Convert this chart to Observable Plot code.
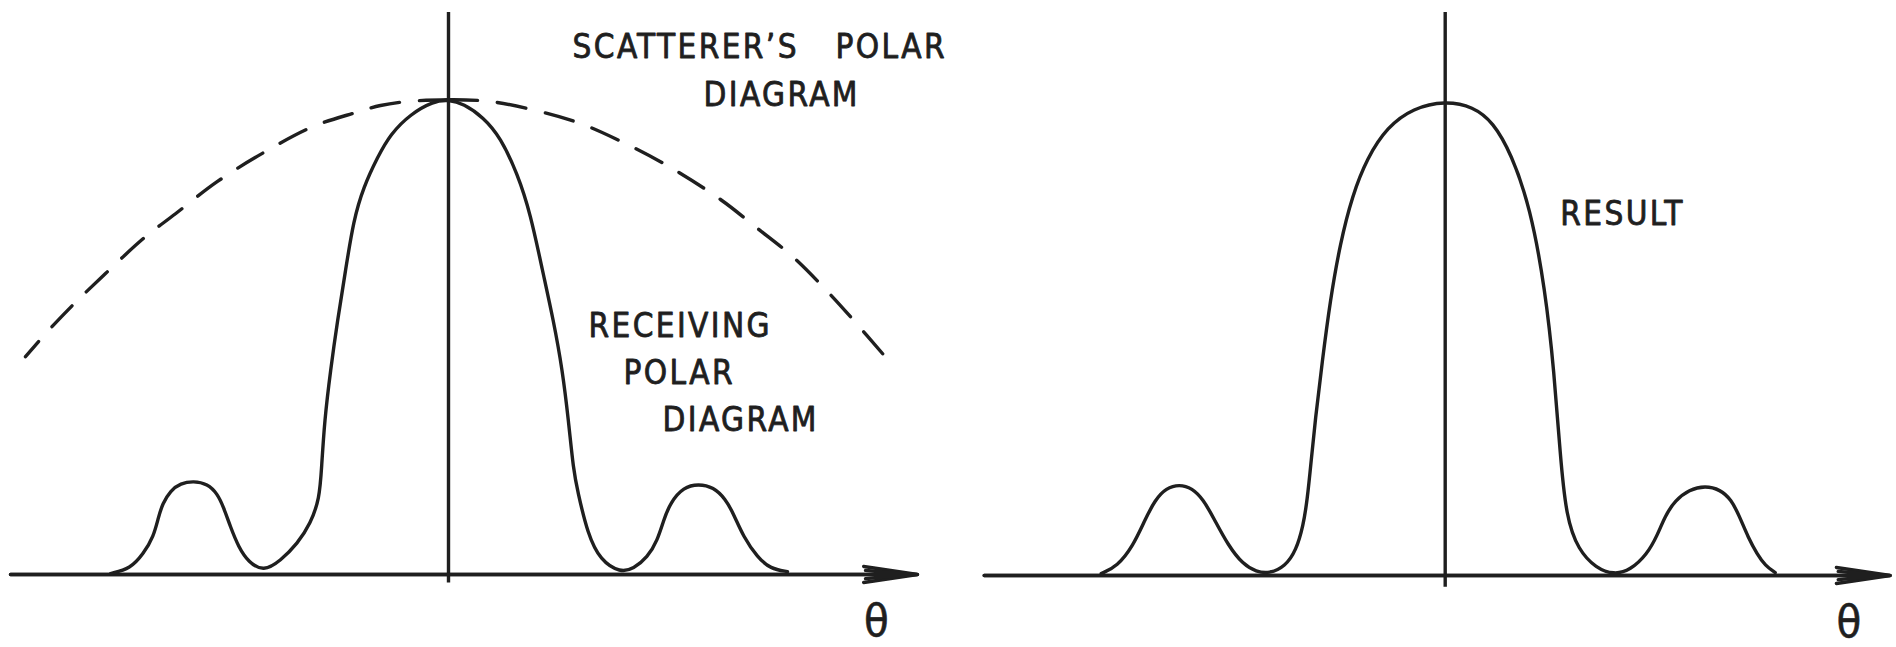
<!DOCTYPE html>
<html>
<head>
<meta charset="utf-8">
<script src="https://cdn.jsdelivr.net/npm/d3@7"></script>
<script src="https://cdn.jsdelivr.net/npm/@observablehq/plot@0.6"></script>
<style>
  html, body { margin: 0; padding: 0; background: #fff; }
  #row { display: flex; width: 1896px; height: 647px; overflow: hidden; }
  #row svg { display: block; flex: none; }
</style>
</head>
<body>
<div id="row"></div>
<script>
// Angle θ (arbitrary units, 0 = boresight) and normalized response.

// Receiving antenna polar diagram: main lobe plus first side lobes
const receivingTheta = [-33.8, -31.8, -30.5, -29.5, -29.0, -28.6, -27.8, -26.8, -25.5, -24.1, -23.1, -22.5,
  -21.8, -21.0, -20.0, -18.5, -16.8, -15.1, -13.8, -12.9, -12.7, -12.4, -11.8, -11.1, -10.3, -9.5,
  -8.5, -7.1, -5.8, -3.8, -1.5, 0,
  1.5, 3.5, 5.2, 6.9, 8.2, 9.4, 10.5, 11.4, 12.0, 12.5, 12.9, 13.9, 15.2, 17.2,
  18.5, 19.9, 20.9, 21.5, 22.2, 23.5, 25.0, 26.5, 27.7, 28.5, 29.5, 30.9, 32.2, 33.9];
const receivingGain = [0.002, 0.012, 0.044, 0.079, 0.121, 0.149, 0.177, 0.192, 0.197, 0.191, 0.170, 0.142,
  0.100, 0.058, 0.026, 0.006, 0.029, 0.065, 0.107, 0.160, 0.222, 0.324, 0.430, 0.535, 0.640, 0.746,
  0.816, 0.879, 0.928, 0.970, 0.997, 1.0,
  0.992, 0.963, 0.921, 0.844, 0.760, 0.640, 0.535, 0.430, 0.324, 0.219, 0.177, 0.086, 0.029, 0.004,
  0.012, 0.036, 0.072, 0.114, 0.152, 0.184, 0.191, 0.184, 0.159, 0.128, 0.079, 0.036, 0.012, 0.006];

// Scatterer's polar diagram: broad smooth pattern
const scattererTheta = [-42.3, -40.0, -37.6, -34.3, -30.5, -27.3, -23.1, -18.3, -13.5, -9.3, -6.8, -3.8, 0,
  4.0, 9.2, 13.2, 16.7, 22.0, 27.2, 30.9, 34.5, 37.9, 40.7, 43.5];
const scattererGain = [0.459, 0.514, 0.567, 0.634, 0.708, 0.760, 0.828, 0.891, 0.944, 0.973, 0.988, 0.997, 1.0,
  0.997, 0.975, 0.950, 0.918, 0.860, 0.790, 0.729, 0.668, 0.596, 0.531, 0.463];

// Combined response of the two patterns
const resultTheta = [-34.4, -32.8, -31.2, -30.1, -29.0, -27.9, -26.6, -25.3, -24.2, -23.2, -21.7, -20.2, -18.9, -17.6,
  -16.0, -14.9, -14.2, -13.8, -13.4, -13.0, -12.3, -11.5, -10.5, -9.3, -7.8, -5.8, -3.2, 0,
  2.8, 4.8, 6.6, 8.5, 10.0, 10.9, 11.5, 12.1, 13.3, 15.1, 16.9,
  18.5, 20.2, 21.2, 22.0, 23.0, 24.4, 26.0, 27.5, 28.6, 29.4, 30.3, 31.2, 32.0, 33.0];
const resultGain = [0.004, 0.019, 0.063, 0.114, 0.160, 0.184, 0.192, 0.184, 0.160, 0.123, 0.063, 0.023, 0.008, 0.004,
  0.019, 0.053, 0.105, 0.158, 0.242, 0.327, 0.450, 0.580, 0.700, 0.800, 0.880, 0.945, 0.985, 1.0,
  0.988, 0.955, 0.889, 0.776, 0.603, 0.428, 0.254, 0.123, 0.054, 0.015, 0.002,
  0.011, 0.045, 0.084, 0.126, 0.158, 0.181, 0.189, 0.181, 0.160, 0.126, 0.080, 0.045, 0.021, 0.006];

const INK = "#1f1f1f";
const FONT = "'DejaVu Sans Condensed', 'DejaVu Sans', sans-serif";

const toRows = (thetas, gains) => thetas.map((t, i) => ({theta: t, gain: gains[i]}));

// Dashed curve drawn outward from the peak on each side, so a dash sits on the crest
function fromCrest(rows) {
  const left = rows.filter(d => d.theta <= 0).reverse().map(d => ({...d, side: "left"}));
  const right = rows.filter(d => d.theta >= 0).map(d => ({...d, side: "right"}));
  return left.concat(right);
}

// Axes: a vertical rule at θ = 0 and a horizontal θ axis ending in an arrow
function axisMarks(thetaFrom, thetaTo, gainLow, gainHigh) {
  const shaft = [{a: thetaFrom, b: thetaTo}];
  return [
    Plot.ruleX([0], {y1: gainLow, y2: gainHigh, stroke: INK, strokeWidth: 3.4}),
    Plot.arrow(shaft, {x1: "a", x2: "b", y1: 0, y2: 0,
      stroke: INK, strokeWidth: 3.4, headAngle: 17, headLength: 24}),
    Plot.arrow(shaft, {x1: "a", x2: "b", y1: 0, y2: 0,
      stroke: INK, strokeWidth: 3.4, headAngle: 9, headLength: 23}),
    Plot.text(["θ"], {
      x: thetaTo - 4, y: -0.13, text: d => d,
      fontSize: 45, textAnchor: "middle", lineAnchor: "bottom", fill: INK, stroke: INK, strokeWidth: 0.6
    })
  ];
}

const label = (text, theta, gain) =>
  Plot.text([text], {x: theta, y: gain, text: d => d, fontSize: 33, textAnchor: "start",
    lineAnchor: "bottom", fill: INK, stroke: INK, strokeWidth: 0.8});

const panelStyle = {fontFamily: FONT, letterSpacing: "2.4px", background: "#fff", overflow: "visible"};

const receivingRows = toRows(receivingTheta, receivingGain);
const scattererRows = fromCrest(toRows(scattererTheta, scattererGain));
const resultRows = toRows(resultTheta, resultGain);

const leftPanel = Plot.plot({
  width: 948, height: 647, margin: 0,
  x: {domain: [-44.8, 50.0], axis: null},
  y: {domain: [-0.1538, 1.2092], axis: null},
  style: panelStyle,
  marks: [
    ...axisMarks(-43.8, 46.9, -0.018, 1.184),
    Plot.line(scattererRows, {x: "theta", y: "gain", z: "side", curve: "catmull-rom",
      stroke: INK, strokeWidth: 3.4, strokeDasharray: "29,20"}),
    Plot.line(receivingRows, {x: "theta", y: "gain", curve: "basis",
      stroke: INK, strokeWidth: 3.4, strokeLinejoin: "round"}),
    label("SCATTERER’S", 12.4, 1.0885),
    label("POLAR", 38.7, 1.0885),
    label("DIAGRAM", 25.5, 0.988),
    label("RECEIVING", 14.0, 0.500),
    label("POLAR", 17.5, 0.402),
    label("DIAGRAM", 21.4, 0.303)
  ]
});

const rightPanel = Plot.plot({
  width: 948, height: 647, margin: 0,
  x: {domain: [-49.67, 45.13], axis: null},
  y: {domain: [-0.1517, 1.2115], axis: null},
  style: panelStyle,
  marks: [
    ...axisMarks(-46.1, 44.5, -0.025, 1.186),
    Plot.line(resultRows, {x: "theta", y: "gain", curve: "basis",
      stroke: INK, strokeWidth: 3.4, strokeLinejoin: "round"}),
    label("RESULT", 11.5, 0.7375)
  ]
});

document.getElementById("row").append(leftPanel, rightPanel);
</script>
</body>
</html>
